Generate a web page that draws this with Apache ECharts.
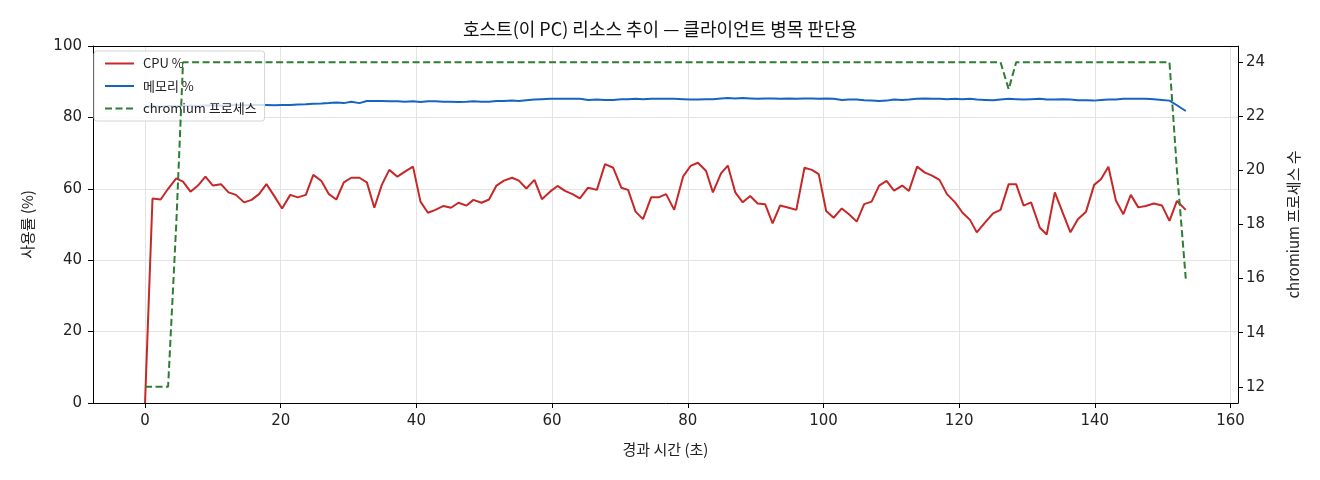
<!DOCTYPE html>
<html>
<head>
<meta charset="utf-8">
<script src="https://cdn.jsdelivr.net/npm/echarts@6/dist/echarts.min.js"></script>
<style>
  html, body { margin: 0; padding: 0; background: #fff; }
  #chart { width: 1320px; height: 480px; }
</style>
</head>
<body>
<div id="chart"></div>
<script>
// ---------------------------------------------------
// Datos
// ---------------------------------------------------
const times = [
  0, 1.1, 2.3, 3.4, 4.6, 5.6, 6.7, 7.8, 8.9, 10.0, 11.2, 12.3, 13.4, 14.6, 15.7, 16.8,
  17.9, 19.1, 20.2, 21.4, 22.5, 23.7,
  24.8, 26.0, 27.1, 28.2, 29.3, 30.4, 31.6, 32.7,
  33.8, 34.9, 36.0, 37.2, 38.3, 39.5, 40.6, 41.7, 42.8, 44.0, 45.1, 46.2, 47.4, 48.4, 49.6,
  50.7, 51.8, 52.9, 54.1, 55.1, 56.2, 57.4, 58.5, 59.7, 60.8, 61.9, 63.0, 64.1, 65.3, 66.6,
  67.8, 69.0, 70.2, 71.2, 72.3, 73.4, 74.6, 75.7, 76.8, 78.0, 79.3, 80.4, 81.5, 82.7, 83.7, 84.9, 85.9, 87.0, 88.1, 89.2,
  90.3, 91.4, 92.5, 93.6, 94.9, 96.0, 97.2, 98.3, 99.3, 100.4, 101.5, 102.7, 103.8, 104.9, 106.0,
  107.1, 108.2, 109.3, 110.4, 111.6, 112.6, 113.8, 114.9, 116.0, 117.1, 118.2, 119.4, 120.5, 121.6, 122.6,
  123.8, 125.0, 126.1, 127.3, 128.4, 129.5, 130.6, 131.9, 132.9, 134.1, 135.2, 136.4, 137.5, 138.7, 139.9,
  140.9, 142.0, 143.1, 144.2, 145.3, 146.4, 147.5, 148.7, 149.9, 151.0, 152.1, 153.4
];

const cpu = [
  0, 57.3, 57.0, 60.0, 62.9, 62.0, 59.2, 60.9, 63.4, 60.9, 61.3, 59.0, 58.3, 56.2, 56.9, 58.5,
  61.3, 57.8, 54.5, 58.3, 57.6, 58.3,
  63.9, 62.2, 58.5, 57.0, 61.8, 63.1, 63.1, 61.8,
  54.7, 61.1, 65.3, 63.4, 64.8, 66.2, 56.4, 53.3, 54.1, 55.2, 54.7, 56.1, 55.3, 56.9, 56.1,
  57.0, 60.9, 62.3, 63.1, 62.3, 60.1, 62.5, 57.1, 59.2, 60.8, 59.4, 58.5, 57.3, 60.3, 59.7,
  66.9, 65.9, 60.3, 59.7, 53.6, 51.5, 57.6, 57.6, 58.5, 54.1, 63.4, 66.4, 67.3, 65.0, 59.0, 64.3, 66.5, 59.0, 56.2, 58.0,
  55.9, 55.7, 50.3, 55.3, 54.7, 54.1, 65.9, 65.3, 64.1, 53.8, 51.9, 54.5, 52.8, 50.8, 55.7,
  56.4, 60.9, 62.2, 59.5, 60.9, 59.4, 66.2, 64.6, 63.7, 62.5, 58.5, 56.2, 53.3, 51.3, 47.8,
  50.5, 53.1, 54.1, 61.3, 61.3, 55.3, 56.2, 49.1, 47.2, 59.0, 53.6, 47.8, 51.5, 53.6, 61.1,
  62.7, 66.2, 56.7, 52.9, 58.3, 54.8, 55.2, 55.9, 55.3, 51.0, 56.6, 54.1
];

const memoria = [
  83.0, 83.1, 83.0, 83.2, 83.1, 83.2, 83.3, 83.2, 83.3, 83.4, 83.3, 83.4, 83.5, 83.4, 83.5, 83.5,
  83.5, 83.4, 83.5, 83.5, 83.6, 83.7,
  83.8, 83.9, 84.0, 84.2, 84.0, 84.4, 84.0, 84.6,
  84.6, 84.6, 84.5, 84.5, 84.4, 84.5, 84.3, 84.5, 84.5, 84.4, 84.4, 84.3, 84.4, 84.5, 84.4,
  84.4, 84.6, 84.6, 84.7, 84.6, 84.8, 85.0, 85.1, 85.2, 85.2, 85.2, 85.2, 85.2, 84.9, 85.0,
  84.9, 84.9, 85.1, 85.1, 85.2, 85.1, 85.2, 85.2, 85.2, 85.2, 85.1, 85.0, 85.0, 85.1, 85.1, 85.3, 85.4, 85.3, 85.4, 85.3,
  85.2, 85.3, 85.3, 85.2, 85.3, 85.2, 85.3, 85.3, 85.2, 85.3, 85.2, 84.9, 85.0, 85.0, 84.8,
  84.7, 84.6, 84.7, 85.0, 84.9, 85.0, 85.2, 85.3, 85.2, 85.2, 85.1, 85.2, 85.1, 85.2, 85.0,
  84.9, 84.8, 85.0, 85.2, 85.1, 85.0, 85.1, 85.2, 85.0, 85.0, 85.1, 85.0, 84.8, 84.8, 84.7,
  84.9, 85.0, 85.0, 85.2, 85.2, 85.2, 85.2, 85.1, 84.9, 84.7, 83.4, 81.8
];

const chromium = [
  12, 12, 12, 12, 18, 24, 24, 24, 24, 24, 24, 24, 24, 24, 24, 24,
  24, 24, 24, 24, 24, 24,
  24, 24, 24, 24, 24, 24, 24, 24,
  24, 24, 24, 24, 24, 24, 24, 24, 24, 24, 24, 24, 24, 24, 24,
  24, 24, 24, 24, 24, 24, 24, 24, 24, 24, 24, 24, 24, 24, 24,
  24, 24, 24, 24, 24, 24, 24, 24, 24, 24, 24, 24, 24, 24, 24, 24, 24, 24, 24, 24,
  24, 24, 24, 24, 24, 24, 24, 24, 24, 24, 24, 24, 24, 24, 24,
  24, 24, 24, 24, 24, 24, 24, 24, 24, 24, 24, 24, 24, 24, 24,
  24, 24, 24, 23, 24, 24, 24, 24, 24, 24, 24, 24, 24, 24, 24,
  24, 24, 24, 24, 24, 24, 24, 24, 24, 24, 20, 16
];

const xTicks = [0, 20, 40, 60, 80, 100, 120, 140, 160];
const rightTicks = [12, 14, 16, 18, 20, 22, 24];

const fuente = '"Noto Sans CJK KR", "Noto Sans", sans-serif';
const fuenteNum = '"DejaVu Sans", "Noto Sans CJK KR", sans-serif';

const pares = (ys) => times.map((t, i) => [t, ys[i]]);

// ---------------------------------------------------
// Chart
// ---------------------------------------------------
const chart = echarts.init(document.getElementById('chart'));

const option = {
  backgroundColor: '#fff',
  animation: false,
  textStyle: { fontFamily: fuente },
  title: {
    text: '호스트(이 PC) 리소스 추이 — 클라이언트 병목 판단용',
    left: 'center',
    top: 15,
    textStyle: { fontFamily: fuente, fontSize: 18, fontWeight: 'normal', color: '#111' }
  },
  legend: {
    orient: 'vertical',
    left: 94,
    top: 51,
    itemWidth: 29,
    itemHeight: 14,
    itemGap: 9.5,
    padding: [6, 8, 6, 10],
    borderColor: '#d4d4d4',
    borderWidth: 1,
    borderRadius: 3,
    backgroundColor: 'rgba(255,255,255,0.8)',
    itemStyle: { opacity: 0 },
    textStyle: { fontFamily: fuente, fontSize: 13, color: '#222', padding: [0, 0, 0, 4] },
    data: ['CPU %', '메모리 %', 'chromium 프로세스']
  },
  grid: { left: 93, right: 82, top: 46, bottom: 77 },
  xAxis: [
    {
      type: 'value',
      min: -7.67,
      max: 161.1,
      name: '경과 시간 (초)',
      nameLocation: 'middle',
      nameGap: 39,
      nameTextStyle: { fontFamily: fuente, fontSize: 15, color: '#222' },
      axisLine: { show: true, onZero: false, lineStyle: { color: '#000', width: 1 } },
      axisTick: { show: true, customValues: xTicks, length: 5, lineStyle: { color: '#000' } },
      axisLabel: { customValues: xTicks, fontSize: 15, color: '#222', margin: 11, fontFamily: fuenteNum },
      splitLine: { show: true, lineStyle: { color: '#e3e3e3', width: 1 } }
    },
    {
      type: 'value',
      position: 'top',
      min: -7.67,
      max: 161.1,
      axisLine: { show: true, onZero: false, lineStyle: { color: '#000', width: 1 } },
      axisTick: { show: false },
      axisLabel: { show: false },
      splitLine: { show: false }
    }
  ],
  yAxis: [
    {
      type: 'value',
      min: 0,
      max: 100,
      interval: 20,
      name: '사용률 (%)',
      nameLocation: 'middle',
      nameGap: 58,
      nameTextStyle: { fontFamily: fuente, fontSize: 15, color: '#222' },
      axisLine: { show: true, onZero: false, lineStyle: { color: '#000', width: 1 } },
      axisTick: { show: true, length: 5, lineStyle: { color: '#000' } },
      axisLabel: { fontSize: 15, color: '#222', margin: 11, fontFamily: fuenteNum },
      splitLine: { show: true, lineStyle: { color: '#e3e3e3', width: 1 } }
    },
    {
      type: 'value',
      position: 'right',
      min: 11.4,
      max: 24.6,
      name: 'chromium 프로세스 수',
      nameLocation: 'middle',
      nameGap: 48,
      nameRotate: 90,
      nameTextStyle: { fontFamily: fuente, fontSize: 15, color: '#222' },
      axisLine: { show: true, onZero: false, lineStyle: { color: '#000', width: 1 } },
      axisTick: { show: true, customValues: rightTicks, length: 5, lineStyle: { color: '#000' } },
      axisLabel: { customValues: rightTicks, fontSize: 15, color: '#222', margin: 8, fontFamily: fuenteNum },
      splitLine: { show: false }
    }
  ],
  series: [
    {
      name: 'CPU %',
      type: 'line',
      data: pares(cpu),
      symbol: 'none',
      color: '#c62828',
      lineStyle: { width: 2, color: '#c62828' },
      z: 3
    },
    {
      name: '메모리 %',
      type: 'line',
      data: pares(memoria),
      symbol: 'none',
      color: '#1565c0',
      lineStyle: { width: 2, color: '#1565c0' },
      z: 3
    },
    {
      name: 'chromium 프로세스',
      type: 'line',
      yAxisIndex: 1,
      data: pares(chromium),
      symbol: 'none',
      color: '#2e7d32',
      lineStyle: { width: 2, color: '#2e7d32', type: [7, 3.5] },
      z: 4
    }
  ]
};

chart.setOption(option);
</script>
</body>
</html>
